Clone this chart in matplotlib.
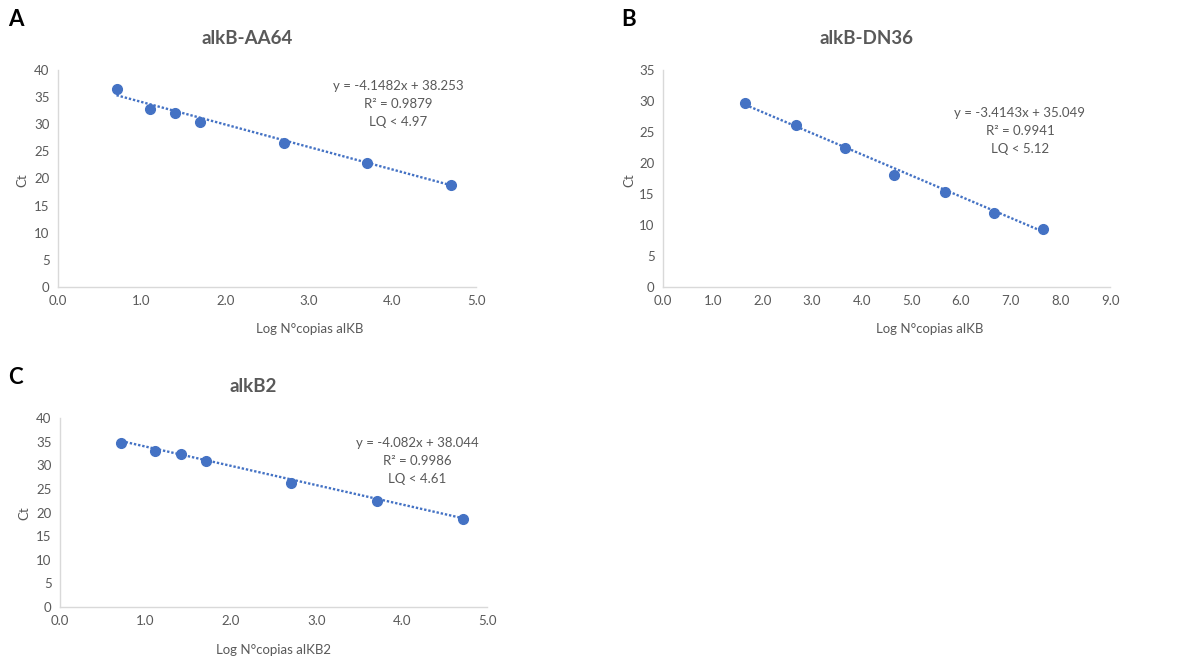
import matplotlib
matplotlib.use("Agg")
import numpy as np
import matplotlib.pyplot as plt

plt.rcParams["font.family"] = ["Lato", "DejaVu Sans"]

W, H = 1202, 660
BLUE = "#4472C4"
GRAY = "#595959"
SPINE = "#D9D9D9"

# ---- data ----
a_x = [0.7, 1.1, 1.4, 1.7, 2.7, 3.7, 4.7]
a_ct = [36.5, 32.9, 32.0, 30.5, 26.6, 22.8, 18.8]
a_fit = (-4.1482, 38.253)
a_text = ["y = -4.1482x + 38.253", "R² = 0.9879", "LQ < 4.97"]

b_x = [1.66, 2.67, 3.67, 4.66, 5.68, 6.67, 7.66]
b_ct = [29.6, 26.1, 22.4, 18.0, 15.3, 12.0, 9.4]
b_fit = (-3.4143, 35.049)
b_text = ["y = -3.4143x + 35.049", "R² = 0.9941", "LQ < 5.12"]

c_x = [0.72, 1.11, 1.42, 1.71, 2.71, 3.71, 4.72]
c_ct = [34.8, 33.1, 32.3, 31.0, 26.3, 22.5, 18.6]
c_fit = (-4.082, 38.044)
c_text = ["y = -4.082x + 38.044", "R² = 0.9986", "LQ < 4.61"]

fig = plt.figure(figsize=(W / 100, H / 100), dpi=100)
fig.patch.set_facecolor("white")


def px(x, y):
    return x / W, 1 - y / H


def panel(box, xs, ys, fit, eq, xmax, ymax, ystep, eq_pos, title, title_pos,
          letter, letter_pos, xlabel, xlabel_pos, ylabel_pos):
    l, t, r, b = box
    ax = fig.add_axes([l / W, 1 - b / H, (r - l) / W, (b - t) / H])
    xf = np.array([xs[0], xs[-1]])
    ax.plot(xf, fit[0] * xf + fit[1], ls=(0, (1, 0.8)), lw=1.7, color=BLUE)
    ax.plot(xs, ys, "o", ms=7, color=BLUE, zorder=3)
    ax.set_xlim(0, xmax)
    ax.set_ylim(0, ymax)
    ax.set_xticks(np.arange(0, xmax + 0.01, 1.0))
    ax.set_xticklabels([f"{v:.1f}" for v in np.arange(0, xmax + 0.01, 1.0)])
    ax.set_yticks(np.arange(0, ymax + 0.01, ystep))
    ax.tick_params(length=0, labelsize=9.5, colors=GRAY, pad=6)
    for s in ["top", "right"]:
        ax.spines[s].set_visible(False)
    for s in ["left", "bottom"]:
        ax.spines[s].set_color(SPINE)
        ax.spines[s].set_linewidth(1.0)
    ex, ey = eq_pos
    for i, line in enumerate(eq):
        fig.text(*px(ex, ey + 18 * i), line, ha="center", va="center",
                 fontsize=9.5, color=GRAY)
    fig.text(*px(*title_pos), title, ha="center", va="center", fontsize=13.5,
             fontweight="bold", color=GRAY)
    fig.text(*px(*letter_pos), letter, ha="center", va="center", fontsize=16,
             fontweight="bold", color="black")
    fig.text(*px(*xlabel_pos), xlabel, ha="center", va="center", fontsize=9.5,
             color=GRAY)
    fig.text(*px(*ylabel_pos), "Ct", ha="center", va="center", fontsize=9.5,
             color=GRAY, rotation=90)
    return ax


panel((58, 70, 476, 287), a_x, a_ct, a_fit, a_text, 5.0, 40, 5,
      (398, 86), "alkB-AA64", (247, 38), "A", (16, 20),
      "Log N°copias alKB", (310, 329), (22, 180))
panel((663, 70, 1110, 287), b_x, b_ct, b_fit, b_text, 9.0, 35, 5,
      (1020, 113), "alkB-DN36", (867, 38), "B", (629, 20),
      "Log N°copias alKB", (930, 329), (629, 180))
panel((60, 418, 487, 607), c_x, c_ct, c_fit, c_text, 5.0, 40, 5,
      (417, 443), "alkB2", (253, 387), "C", (15, 377),
      "Log N°copias alKB2", (273, 650), (24, 513))

fig.savefig("out.png", dpi=100)
